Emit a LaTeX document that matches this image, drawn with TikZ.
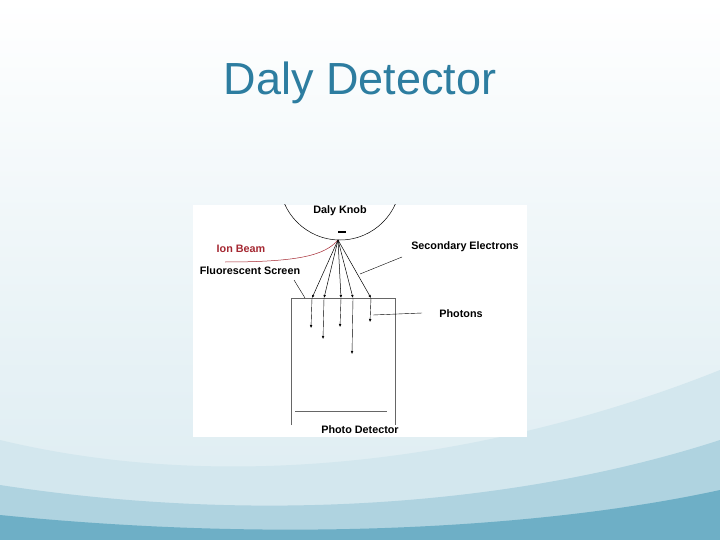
\documentclass[tikz,border=0pt]{standalone}
\usepackage{fontspec}
\setmainfont{Liberation Sans}
\usetikzlibrary{arrows.meta}
\definecolor{titleblue}{RGB}{45,125,160}
\definecolor{ionred}{RGB}{165,40,50}
\definecolor{seablue}{RGB}{110,175,198}
\tikzset{
    lbl/.style={font=\fontsize{10.8}{13}\selectfont\bfseries, inner sep=1pt},
    ray/.style={-{Latex[length=3pt,width=2.6pt]}, line width=0.5pt},
    leader/.style={line width=0.4pt}
}
\begin{document}
\begin{tikzpicture}[x=1pt, y=-1pt]
    % Background
    \useasboundingbox (0,0) rectangle (720,540);
    \shade[top color=white, bottom color=seablue!25] (0,0) rectangle (720,540);
    \fill[seablue!30] (0,540) -- (0,440) .. controls (250,500) and (520,450) .. (720,370) -- (720,540) -- cycle;
    \fill[seablue!55] (0,540) -- (0,485) .. controls (260,525) and (520,505) .. (720,440) -- (720,540) -- cycle;
    \fill[seablue] (0,540) -- (0,515) .. controls (300,545) and (560,525) .. (720,490) -- (720,540) -- cycle;

    % Title
    \node[text=titleblue, font=\fontsize{45}{50}\selectfont] (title) at (360,83) {Daly Detector};

    % Diagram panel
    \fill[white] (193,205) rectangle (527,437);

    % Daly knob
    \begin{scope}
        \clip (193,205) rectangle (527,437);
        \draw[line width=0.5pt] (340,179.4) ++(180:60.6) arc[start angle=180, end angle=0, radius=60.6];
    \end{scope}
    \draw[line width=1.2pt] (338,232) -- (346,232);
    \node[lbl] (knob) at (340,211) {Daly Knob};
    \coordinate (apex) at (338,240);

    % Ion beam
    \node[lbl, text=ionred] (ion) at (241,249) {Ion Beam};
    \coordinate (beam) at (225,262);
    \draw[ionred, line width=0.5pt] (beam) .. controls (300,262) and (325,255) .. (apex);

    % Fluorescent screen and photo detector box
    \node[lbl] (screen) at (250,271) {Fluorescent Screen};
    \coordinate (sl) at (291,298);
    \coordinate (sr) at (395,298);
    \draw[line width=0.5pt, gray!80!black] (291,425) -- (sl) -- (sr) -- (395,425);
    \draw[leader] (294,280) -- (305,298);
    \draw[line width=0.5pt, gray!80!black] (295,411) -- (387,411);
    \node[lbl] (detector) at (360,430) {Photo Detector};

    % Secondary electrons and photons
    \foreach \x/\y [count=\i] in {312/328, 324/339, 341/327, 353/354, 371/322} {
        \coordinate (hit\i) at (\x,298);
        \coordinate (ph\i) at (\x-1,\y);
        \draw[ray] (apex) -- (hit\i);
        \draw[ray, line width=0.4pt] (hit\i) -- (ph\i);
    }
    \node[lbl] (secondary) at (465,247) {Secondary Electrons};
    \draw[leader] (360,274) -- (402,257);
    \node[lbl] (photons) at (461,314) {Photons};
    \draw[leader] (373,315) -- (422,313);
\end{tikzpicture}
\end{document}
